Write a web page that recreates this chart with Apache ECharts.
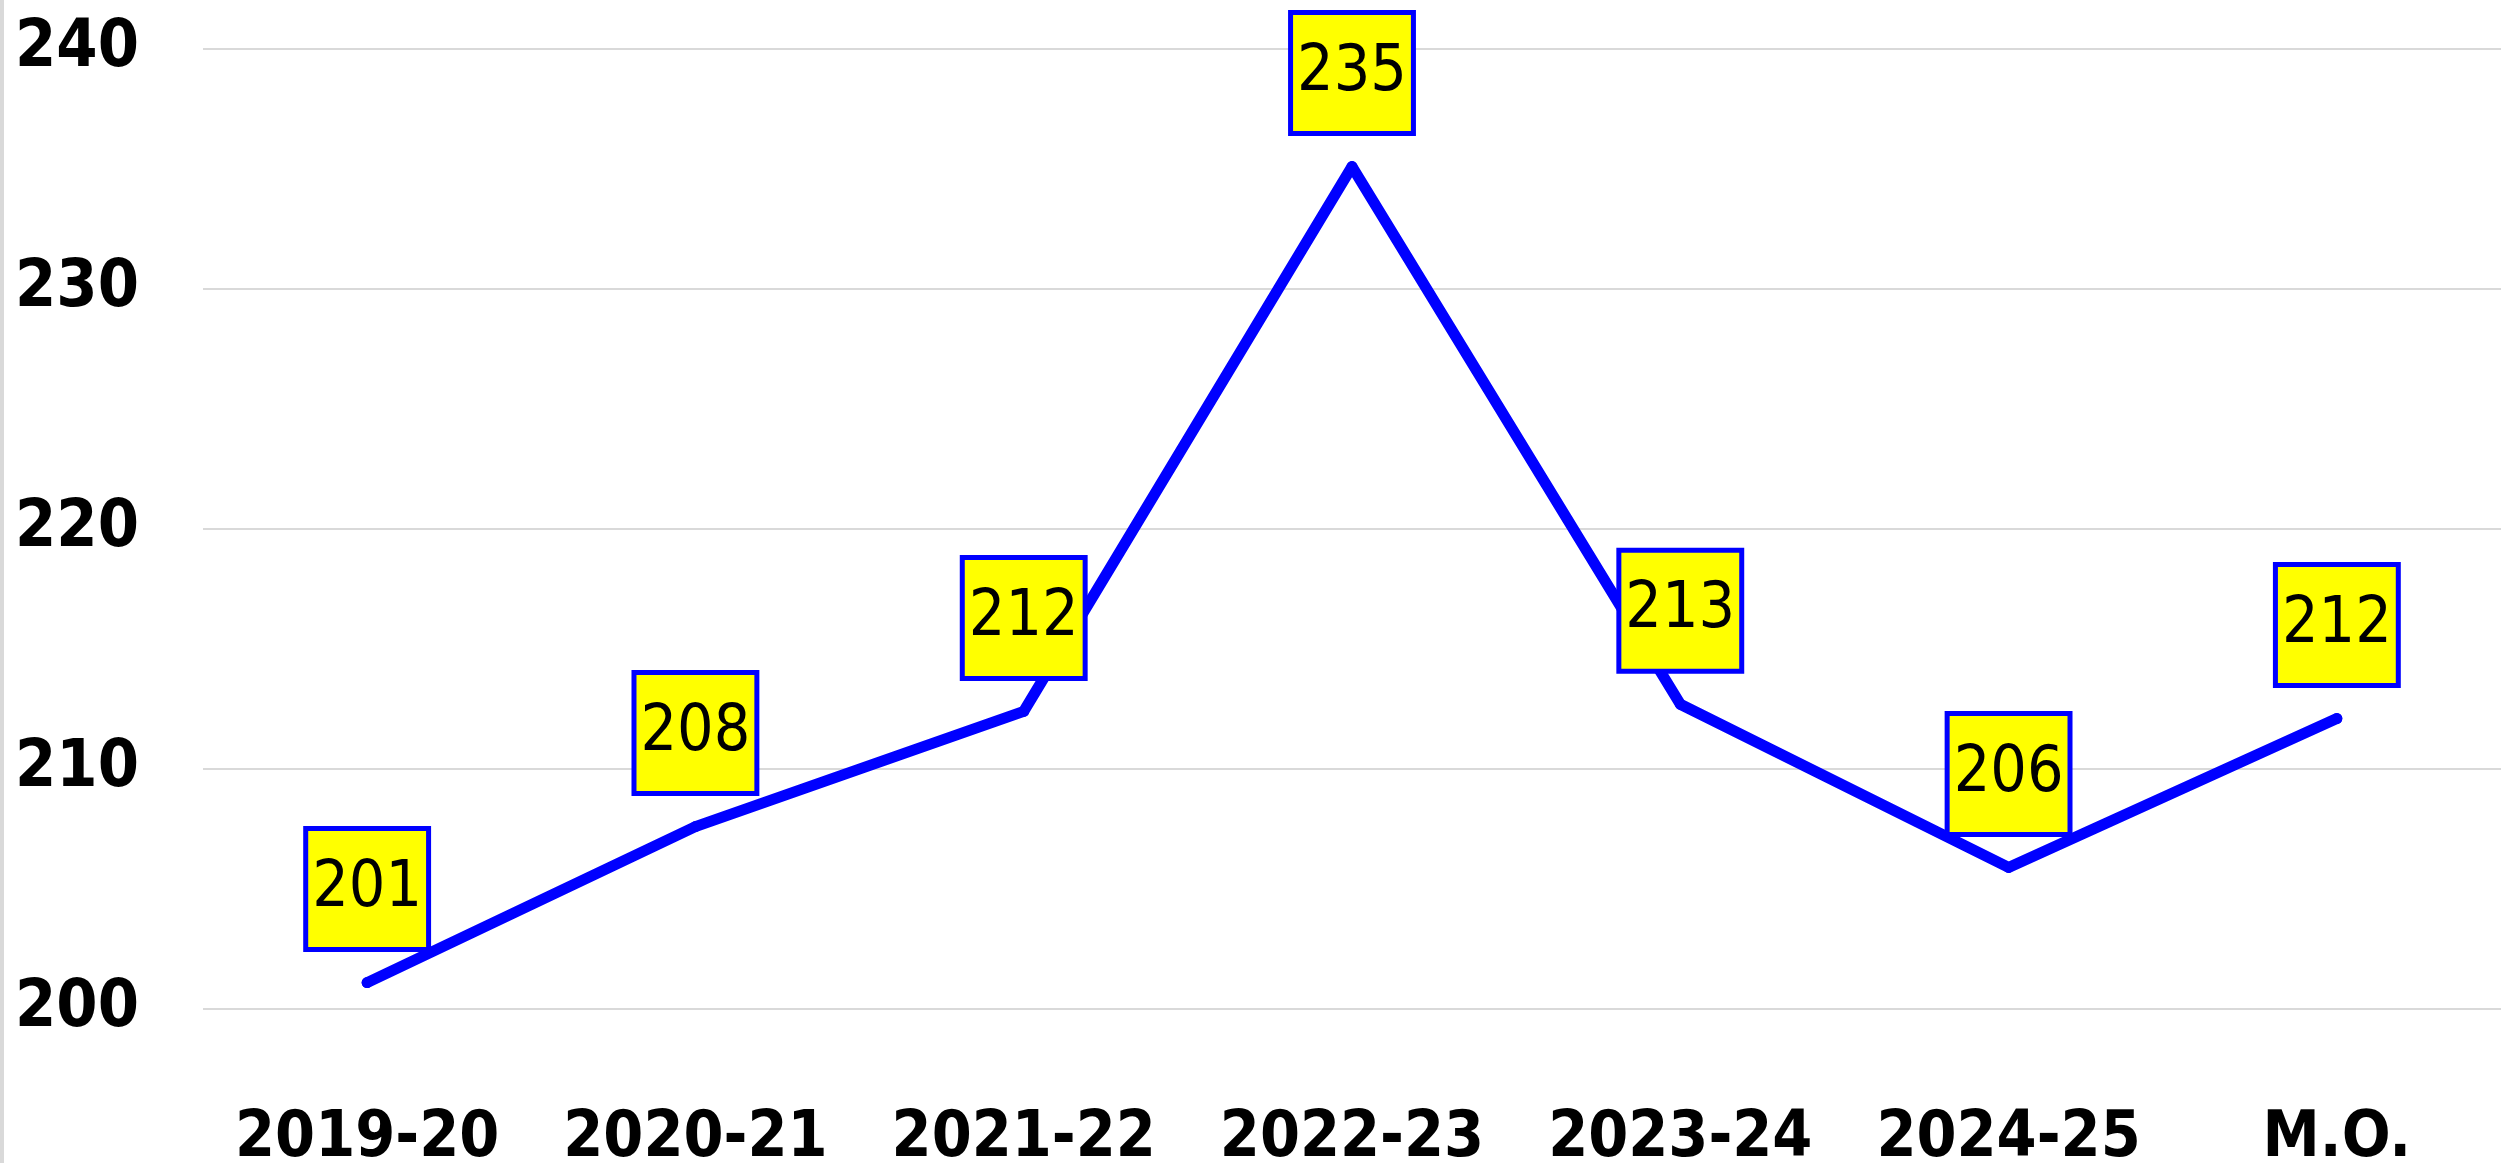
<!DOCTYPE html>
<html>
<head>
<meta charset="utf-8">
<style>
  html, body { margin: 0; padding: 0; background: #fff; }
  #chart { width: 2503px; height: 1163px; }
</style>
<script src="https://cdn.jsdelivr.net/npm/echarts@6/dist/echarts.min.js"></script>
</head>
<body>
<div id="chart"></div>
<script>
// categories and values
const years = ['2019-20', '2020-21', '2021-22', '2022-23', '2023-24', '2024-25', 'M.O.'];
const values = [201.1, 207.6, 212.4, 235.1, 212.7, 205.9, 212.1];

const yMin = 200;
const yMax = 240;
const yStep = 10;

const font = "'DejaVu Sans Condensed', 'Liberation Sans Narrow', sans-serif";

const chart = echarts.init(document.getElementById('chart'));

const option = {
  animation: false,
  backgroundColor: '#ffffff',
  graphic: [
    {
      // thin grey frame on the left edge
      type: 'rect',
      left: 0,
      top: 0,
      shape: { width: 4, height: 1163 },
      style: { fill: '#d9d9d9' }
    }
  ],
  grid: {
    left: 203,
    right: 2,
    top: 49,
    bottom: 154,
    containLabel: false,
    outerBoundsMode: 'none'
  },
  xAxis: {
    type: 'category',
    data: years,
    boundaryGap: true,
    axisLine: { show: false },
    axisTick: { show: false },
    axisLabel: {
      interval: 0,
      color: '#000',
      fontFamily: font,
      fontWeight: 'bold',
      fontSize: 64,
      margin: 98
    }
  },
  yAxis: {
    type: 'value',
    min: yMin,
    max: yMax,
    interval: yStep,
    axisLine: { show: false },
    axisTick: { show: false },
    splitLine: { lineStyle: { color: '#d9d9d9', width: 2 } },
    axisLabel: {
      color: '#000',
      fontFamily: font,
      fontWeight: 'bold',
      fontSize: 66,
      margin: 64
    }
  },
  series: [
    {
      type: 'line',
      data: values,
      symbol: 'circle',
      symbolSize: 11,
      itemStyle: { color: '#0000ff' },
      lineStyle: { color: '#0000ff', width: 11, cap: 'round', join: 'round' },
      label: {
        show: true,
        position: 'top',
        distance: 30,
        formatter: p => Math.round(p.value),
        color: '#000',
        fontFamily: font,
        fontSize: 64,
        lineHeight: 64,
        backgroundColor: '#ffff00',
        borderColor: '#0000ff',
        borderWidth: 5,
        padding: [26, 4]
      },
      labelLayout: { hideOverlap: false },
      z: 2
    }
  ]
};

chart.setOption(option);
window.addEventListener('resize', () => chart.resize());
</script>
</body>
</html>
